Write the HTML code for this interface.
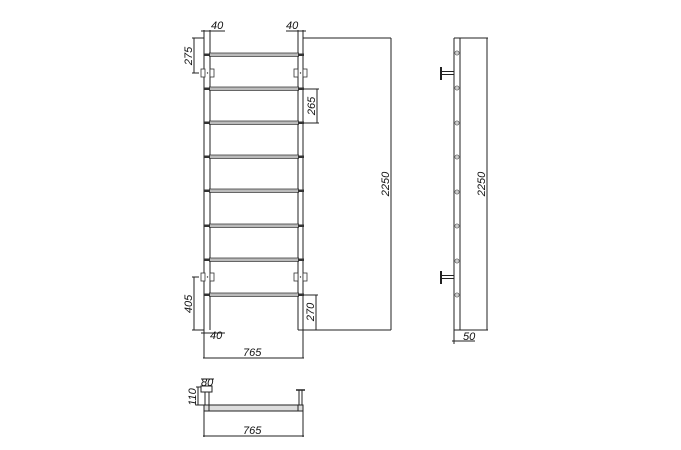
<!DOCTYPE html>
<html><head><meta charset="utf-8"><style>
html,body{margin:0;padding:0;background:#fff;width:681px;height:450px;overflow:hidden}
svg{display:block}
text{font-family:"Liberation Sans",sans-serif;font-style:italic;font-size:11px;fill:#111}
</style></head><body>
<svg width="681" height="450" viewBox="0 0 681 450" xmlns="http://www.w3.org/2000/svg">
<defs>
<g id="rung">
  <rect x="209" y="-2" width="90" height="3" fill="#bbb"/>
  <line x1="209" y1="-2" x2="299" y2="-2" stroke="#333" stroke-width="0.8"/>
  <line x1="209" y1="1.5" x2="299" y2="1.5" stroke="#333" stroke-width="0.8"/>
  <rect x="204" y="-1.5" width="6" height="2.5" fill="#333"/>
  <rect x="298" y="-1.5" width="6" height="2.5" fill="#333"/>
</g>
<g id="brk">
  <rect x="-5" y="-4" width="4" height="8" fill="#fff" stroke="#333" stroke-width="0.8"/>
  <rect x="4" y="-4" width="4" height="8" fill="#fff" stroke="#333" stroke-width="0.8"/>
  <circle cx="1.5" cy="0" r="0.7" fill="#333"/>
</g>
<g id="dot"><circle cx="0" cy="0" r="2" fill="#fff" stroke="#555" stroke-width="0.8"/><circle r="0.6" fill="#555"/></g>
</defs>
<g stroke="#222" stroke-width="1" fill="none">
  <!-- front rails -->
  <line x1="204" y1="30" x2="204" y2="358"/>
  <line x1="210" y1="30" x2="210" y2="330"/>
  <line x1="298" y1="30" x2="298" y2="330"/>
  <line x1="303" y1="30" x2="303" y2="358"/>
  <line x1="298" y1="330" x2="391" y2="330"/>
  <line x1="303" y1="38" x2="391" y2="38"/>
  <!-- top 40 dims -->
  <line x1="201" y1="31" x2="225" y2="31"/>
  <line x1="286" y1="31" x2="306" y2="31"/>
  <!-- bottom 40 -->
  <line x1="201" y1="333" x2="225" y2="333"/>
  <!-- 765 -->
  <line x1="203" y1="358" x2="304" y2="358"/>
  <!-- 2250 -->
  <line x1="391" y1="38" x2="391" y2="330"/>
  <!-- 275 -->
  <line x1="194" y1="38" x2="194" y2="73"/>
  <line x1="192" y1="38" x2="204" y2="38"/>
  <line x1="192" y1="73" x2="199" y2="73"/>
  <!-- 405 -->
  <line x1="194" y1="277" x2="194" y2="330"/>
  <line x1="192" y1="277" x2="199" y2="277"/>
  <line x1="192" y1="330" x2="204" y2="330"/>
  <!-- 265 -->
  <line x1="317" y1="89" x2="317" y2="123"/>
  <line x1="303" y1="89" x2="319" y2="89"/>
  <line x1="303" y1="123" x2="319" y2="123"/>
  <!-- 270 -->
  <line x1="316" y1="295" x2="316" y2="330"/>
  <line x1="303" y1="295" x2="318" y2="295"/>
  <!-- side view -->
  <line x1="454" y1="38" x2="454" y2="330"/>
  <line x1="460" y1="38" x2="460" y2="330"/>
  <line x1="454" y1="38" x2="460" y2="38"/>
  <line x1="454" y1="330" x2="460" y2="330"/>
  <line x1="460" y1="38" x2="488" y2="38"/>
  <line x1="460" y1="330" x2="488" y2="330"/>
  <line x1="487" y1="38" x2="487" y2="330"/>
  <line x1="454" y1="330" x2="454" y2="344"/>
  <line x1="452" y1="341" x2="475" y2="341"/>
  <line x1="441" y1="71.5" x2="454" y2="71.5"/><line x1="441" y1="74.5" x2="454" y2="74.5"/>
  <line x1="441" y1="67" x2="441" y2="80" stroke-width="2"/>
  <line x1="441" y1="275.5" x2="454" y2="275.5"/><line x1="441" y1="278.5" x2="454" y2="278.5"/>
  <line x1="441" y1="271" x2="441" y2="284" stroke-width="2"/>
  <!-- bottom view -->
  <rect x="201" y="386" width="11" height="6"/>
  <line x1="205" y1="392" x2="205" y2="405"/><line x1="209" y1="392" x2="209" y2="405"/>
  <line x1="198" y1="387" x2="198" y2="405"/>
  <line x1="196" y1="387" x2="201" y2="387"/><line x1="196" y1="405" x2="204" y2="405"/>
  <line x1="201" y1="379" x2="214" y2="379"/>
  <rect x="204" y="405" width="99" height="6" fill="#ddd"/>
  <rect x="204" y="405" width="5" height="6"/><rect x="298" y="405" width="5" height="6"/>
  <line x1="296" y1="390" x2="305" y2="390" stroke-width="1.5"/>
  <line x1="299" y1="390" x2="299" y2="405"/><line x1="302" y1="390" x2="302" y2="405"/>
  <line x1="204" y1="411" x2="204" y2="437"/><line x1="303" y1="411" x2="303" y2="437"/>
  <line x1="203" y1="436" x2="304" y2="436"/>
</g>
<g>
  <use href="#rung" y="55"/><use href="#rung" y="89"/><use href="#rung" y="123"/><use href="#rung" y="157"/>
  <use href="#rung" y="191"/><use href="#rung" y="226"/><use href="#rung" y="260"/><use href="#rung" y="295"/>
  <use href="#brk" x="206" y="73"/><use href="#brk" x="299" y="73"/>
  <use href="#brk" x="206" y="277"/><use href="#brk" x="299" y="277"/>
  <use href="#dot" x="457" y="53"/><use href="#dot" x="457" y="88"/><use href="#dot" x="457" y="123"/><use href="#dot" x="457" y="157"/>
  <use href="#dot" x="457" y="192"/><use href="#dot" x="457" y="226"/><use href="#dot" x="457" y="261"/><use href="#dot" x="457" y="295"/>
</g>
<text x="211" y="29">40</text>
<text x="286" y="29">40</text>
<text x="210" y="339">40</text>
<text x="243" y="356">765</text>
<text x="243" y="434">765</text>
<text x="201" y="386" font-size="10">80</text>
<text x="463" y="340">50</text>
<text transform="translate(192,56) rotate(-90)" text-anchor="middle">275</text>
<text transform="translate(192,304) rotate(-90)" text-anchor="middle">405</text>
<text transform="translate(315,106) rotate(-90)" text-anchor="middle">265</text>
<text transform="translate(314,312) rotate(-90)" text-anchor="middle">270</text>
<text transform="translate(389,184) rotate(-90)" text-anchor="middle">2250</text>
<text transform="translate(485,184) rotate(-90)" text-anchor="middle">2250</text>
<text transform="translate(196,397) rotate(-90)" text-anchor="middle" font-size="10">110</text>
</svg>
</body></html>
